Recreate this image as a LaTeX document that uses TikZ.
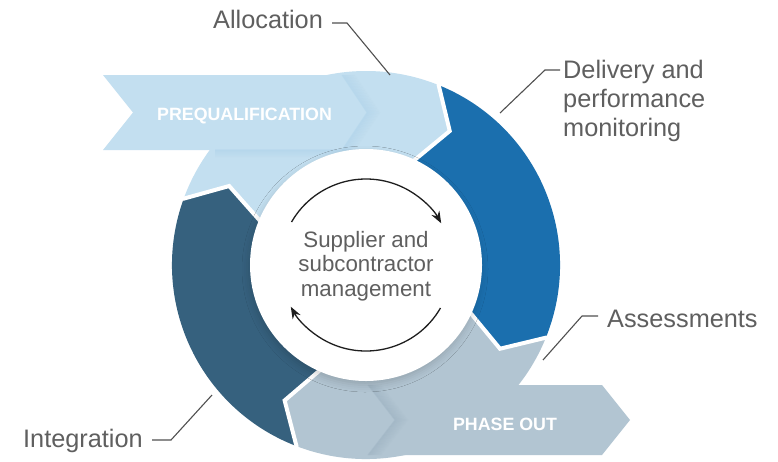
\documentclass[tikz,border=0pt]{standalone}
\usepackage{fontspec}
\setmainfont{Liberation Sans}
\usetikzlibrary{shadows.blur,arrows.meta}
\definecolor{ltblue}{RGB}{195,223,240}
\definecolor{ltshade}{RGB}{140,190,225}
\definecolor{midblue}{RGB}{27,111,174}
\definecolor{slate}{RGB}{54,97,126}
\definecolor{phgray}{RGB}{178,197,210}
\definecolor{phshade}{RGB}{120,145,165}
\definecolor{labelgray}{RGB}{95,95,95}
\definecolor{leadergray}{RGB}{80,80,80}
\definecolor{arrowdark}{RGB}{30,30,30}
\tikzset{
  sepline/.style={draw=white,line width=4pt,line join=miter},
  leader/.style={draw=leadergray,line width=1.1pt},
  labeltext/.style={inner sep=0pt,text=labelgray,font=\fontsize{25.3}{29}\selectfont},
  bandtext/.style={inner sep=0pt,text=white,font=\fontsize{17.8}{20}\selectfont\bfseries},
  cyclearrow/.style={draw=arrowdark,line width=1.3pt,-{Stealth[length=12pt,width=9pt]}},
}
\begin{document}
\begin{tikzpicture}[x=1pt,y=1pt]
\useasboundingbox (0,0) rectangle (778,-461);
\fill[white] (0,0) rectangle (778,-461);
\coordinate (C) at (366,-265);

% ---------- ring segments ----------
\begin{scope}[shift={(366,-265)}]
  % light blue (prequalification / allocation)
  \fill[ltblue] (160:194) arc[start angle=160,end angle=68,radius=194]
     -- (58:158) -- (68:105) arc[start angle=68,end angle=160,radius=105]
     -- (150:158) -- cycle;
  % blue (delivery)
  \fill[midblue] (68:194) arc[start angle=68,end angle=-22,radius=194]
     -- (-32:158) -- (-22:105) arc[start angle=-22,end angle=68,radius=105]
     -- (58:158) -- cycle;
  % gray (assessments / phase out)
  \fill[phgray] (-22:194) arc[start angle=-22,end angle=-111,radius=194]
     -- (-121:158) -- (-111:105) arc[start angle=-111,end angle=-22,radius=105]
     -- (-32:158) -- cycle;
  % dark (integration)
  \fill[slate] (249:194) arc[start angle=249,end angle=160,radius=194]
     -- (150:158) -- (160:105) arc[start angle=160,end angle=249,radius=105]
     -- (239:158) -- cycle;
\end{scope}

% ---------- bands ----------
\fill[ltblue] (103,-75) -- (352,-75) -- (352,-150) -- (103,-150) -- (133,-112.5) -- cycle;
\fill[phgray] (340,-385) -- (602,-385) -- (630,-420) -- (602,-455) -- (340,-455) -- cycle;

% chevron shadows
\foreach \i [evaluate=\i as \op using 0.15*(1-\i/14)] in {0,...,13}{
  \draw[ltshade,opacity=\op,line width=1.1pt] (342+\i,-75) -- (367+\i,-112.5) -- (342+\i,-150);
  \draw[phshade,opacity=\op,line width=1.1pt] (368+\i,-385) -- (395+\i,-420) -- (368+\i,-455);
}
% shadow under prequalification band
\foreach \i [evaluate=\i as \op using 0.12*(1-\i/8)] in {0,...,7}{
  \draw[ltshade,opacity=\op,line width=1.1pt] (215,-150-\i) -- (352,-150-\i);
}

% ---------- white separators ----------
\begin{scope}[shift={(366,-265)}]
  \draw[sepline] (68:200) -- (68:194) -- (58:158) -- (68:105);
  \draw[sepline] (-22:200) -- (-22:194) -- (-32:158) -- (-22:105);
  \draw[sepline] (-111:200) -- (-111:194) -- (-121:158) -- (-111:105);
  \draw[sepline] (160:200) -- (160:194) -- (150:158) -- (160:105);
\end{scope}

% ---------- hub ----------
\node[circle,fill=white,minimum size=232pt,inner sep=0pt,
  blur shadow={shadow xshift=-1pt,shadow yshift=-4pt,shadow blur radius=7pt,shadow opacity=16}] (hub) at (C) {};
\node[inner sep=0pt,align=center,text=labelgray,font=\fontsize{22.3}{24.3}\selectfont] (hubtext) at (366,-266)
  {Supplier and\\subcontractor\\management};

\begin{scope}[shift={(366,-265)}]
  \draw[cyclearrow] (150:86) arc[start angle=150,end angle=29,radius=86];
  \draw[cyclearrow] (-30:86) arc[start angle=-30,end angle=-151,radius=86];
\end{scope}

% ---------- band texts ----------
\node[bandtext,anchor=base] (preq) at (244.5,-120) {PREQUALIFICATION};
\node[bandtext,anchor=base] (phase) at (505,-430) {PHASE OUT};

% ---------- labels and leaders ----------
\node[labeltext,anchor=base west] (alloc) at (213,-28) {Allocation};
\coordinate (allocA) at (332,-23);
\coordinate (allocB) at (347,-23);
\coordinate (allocC) at (390,-75);
\draw[leader] (allocA) -- (allocB) -- (allocC);

\node[labeltext,anchor=base west] (deliv1) at (563,-78) {Delivery and};
\node[labeltext,anchor=base west] (deliv2) at (563,-107) {performance};
\node[labeltext,anchor=base west] (deliv3) at (563,-136) {monitoring};
\coordinate (delivA) at (560,-70);
\coordinate (delivB) at (545,-70);
\coordinate (delivC) at (500,-113);
\draw[leader] (delivA) -- (delivB) -- (delivC);

\node[labeltext,anchor=base west] (assess) at (607,-327) {Assessments};
\coordinate (assessA) at (598,-316);
\coordinate (assessB) at (582,-316);
\coordinate (assessC) at (543,-360);
\draw[leader] (assessA) -- (assessB) -- (assessC);

\node[labeltext,anchor=base west] (integ) at (23,-447) {Integration};
\coordinate (integA) at (152,-440);
\coordinate (integB) at (171,-440);
\coordinate (integC) at (212,-395);
\draw[leader] (integA) -- (integB) -- (integC);
\end{tikzpicture}
\end{document}
